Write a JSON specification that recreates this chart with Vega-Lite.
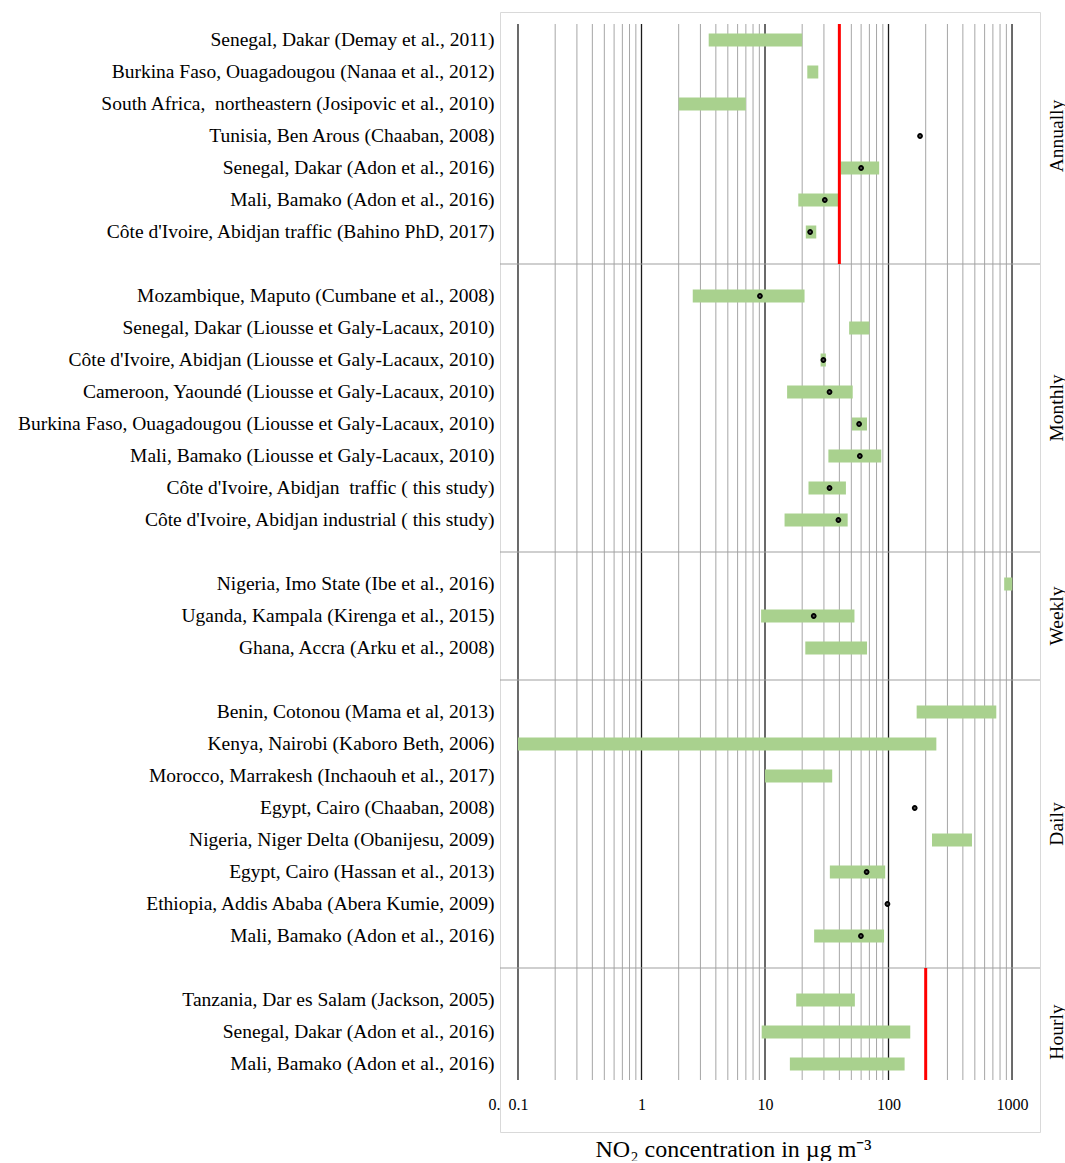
{
  "$schema": "https://vega.github.io/schema/vega-lite/v6.json",
  "width": 540,
  "height": 1120,
  "padding": {"left": 17, "top": 12, "right": 0, "bottom": 0},
  "config": {
    "font": "Liberation Serif",
    "view": {"stroke": "#d9d9d9", "strokeWidth": 1}
  },
  "datasets": {
    "rows": [
      {"label": "Senegal, Dakar (Demay et al., 2011)", "lo": 3.5, "hi": 20},
      {"label": "Burkina Faso, Ouagadougou (Nanaa et al., 2012)", "lo": 22, "hi": 27},
      {"label": "South Africa,\u00a0 northeastern (Josipovic et al., 2010)", "lo": 2.0, "hi": 7.0},
      {"label": "Tunisia, Ben Arous (Chaaban, 2008)", "mean": 180},
      {"label": "Senegal, Dakar (Adon et al., 2016)", "lo": 41, "hi": 84, "mean": 60},
      {"label": "Mali, Bamako (Adon et al., 2016)", "lo": 18.6, "hi": 40, "mean": 30.5},
      {"label": "Côte d'Ivoire, Abidjan traffic (Bahino PhD, 2017)", "lo": 21.4, "hi": 26, "mean": 23.2},
      {"label": "Mozambique, Maputo (Cumbane et al., 2008)", "lo": 2.6, "hi": 20.9, "mean": 9.1},
      {"label": "Senegal, Dakar (Liousse et Galy-Lacaux, 2010)", "lo": 48, "hi": 70},
      {"label": "Côte d'Ivoire, Abidjan (Liousse et Galy-Lacaux, 2010)", "lo": 28.2, "hi": 31.1, "mean": 29.7},
      {"label": "Cameroon, Yaoundé (Liousse et Galy-Lacaux, 2010)", "lo": 15.1, "hi": 51.3, "mean": 33.3},
      {"label": "Burkina Faso, Ouagadougou (Liousse et Galy-Lacaux, 2010)", "lo": 50.6, "hi": 67, "mean": 57.8},
      {"label": "Mali, Bamako (Liousse et Galy-Lacaux, 2010)", "lo": 32.6, "hi": 87.4, "mean": 58.6},
      {"label": "Côte d'Ivoire, Abidjan\u00a0 traffic ( this study)", "lo": 22.5, "hi": 45.2, "mean": 33.3},
      {"label": "Côte d'Ivoire, Abidjan industrial ( this study)", "lo": 14.4, "hi": 46.7, "mean": 39.3},
      {"label": "Nigeria, Imo State (Ibe et al., 2016)", "lo": 864, "hi": 1005},
      {"label": "Uganda, Kampala (Kirenga et al., 2015)", "lo": 9.3, "hi": 53, "mean": 24.8},
      {"label": "Ghana, Accra (Arku et al., 2008)", "lo": 21.2, "hi": 67},
      {"label": "Benin, Cotonou (Mama et al, 2013)", "lo": 169, "hi": 746},
      {"label": "Kenya, Nairobi (Kaboro Beth, 2006)", "lo": 0.1, "hi": 244},
      {"label": "Morocco, Marrakesh (Inchaouh et al., 2017)", "lo": 10, "hi": 35},
      {"label": "Egypt, Cairo (Chaaban, 2008)", "mean": 163},
      {"label": "Nigeria, Niger Delta (Obanijesu, 2009)", "lo": 225, "hi": 474},
      {"label": "Egypt, Cairo (Hassan et al., 2013)", "lo": 33.5, "hi": 94, "mean": 66.5},
      {"label": "Ethiopia, Addis Ababa (Abera Kumie, 2009)", "mean": 98},
      {"label": "Mali, Bamako (Adon et al., 2016)\u200b", "lo": 25, "hi": 92, "mean": 59.8},
      {"label": "Tanzania, Dar es Salam (Jackson, 2005)", "lo": 17.9, "hi": 53.4},
      {"label": "Senegal, Dakar (Adon et al., 2016)\u200b", "lo": 9.4, "hi": 150},
      {"label": "Mali, Bamako (Adon et al., 2016)\u200b\u200b", "lo": 15.9, "hi": 135}
    ],
    "minorGrid": [
      {"v": 0.2}, {"v": 0.3}, {"v": 0.4}, {"v": 0.5}, {"v": 0.6}, {"v": 0.7}, {"v": 0.8}, {"v": 0.9},
      {"v": 2}, {"v": 3}, {"v": 4}, {"v": 5}, {"v": 6}, {"v": 7}, {"v": 8}, {"v": 9},
      {"v": 20}, {"v": 30}, {"v": 40}, {"v": 50}, {"v": 60}, {"v": 70}, {"v": 80}, {"v": 90},
      {"v": 200}, {"v": 300}, {"v": 400}, {"v": 500}, {"v": 600}, {"v": 700}, {"v": 800}, {"v": 900}
    ],
    "majorGrid": [{"v": 0.1}, {"v": 1}, {"v": 10}, {"v": 100}, {"v": 1000}],
    "seps": [{"id": " "}, {"id": "  "}, {"id": "   "}, {"id": "    "}],
    "annualLimit": [{"limit": 40, "from": "Senegal, Dakar (Demay et al., 2011)", "to": " "}],
    "hourlyLimit": [{"limit": 200, "from": "    ", "to": "Mali, Bamako (Adon et al., 2016)\u200b\u200b"}]
  },
  "layer": [
    {
      "data": {"name": "minorGrid"},
      "mark": {"type": "rule", "color": "#a6a6a6", "strokeWidth": 1},
      "encoding": {
        "x": {"field": "v", "type": "quantitative"},
        "y": {"datum": "Senegal, Dakar (Demay et al., 2011)", "type": "nominal", "bandPosition": 0, "axis": null},
        "y2": {"datum": "Mali, Bamako (Adon et al., 2016)\u200b\u200b", "bandPosition": 1}
      }
    },
    {
      "data": {"name": "majorGrid"},
      "mark": {"type": "rule", "color": "#1a1a1a", "strokeWidth": 1.3},
      "encoding": {
        "x": {"field": "v", "type": "quantitative"},
        "y": {"datum": "Senegal, Dakar (Demay et al., 2011)", "type": "nominal", "bandPosition": 0, "axis": null},
        "y2": {"datum": "Mali, Bamako (Adon et al., 2016)\u200b\u200b", "bandPosition": 1}
      }
    },
    {
      "data": {"name": "seps"},
      "mark": {"type": "rule", "color": "#a0a0a0", "strokeWidth": 1.2},
      "encoding": {
        "y": {
          "field": "id", "type": "nominal", "bandPosition": 0.5,
          "axis": {
            "orient": "right", "title": null, "ticks": false, "domain": false, "grid": false,
            "labelAngle": -90, "labelFontSize": 19.5, "labelColor": "#000", "labelPadding": 7, "labelLimit": 300,
            "labelExpr": "datum.value == 'Tunisia, Ben Arous (Chaaban, 2008)' ? 'Annually' : datum.value == 'Cameroon, Yaoundé (Liousse et Galy-Lacaux, 2010)' ? 'Monthly' : datum.value == 'Uganda, Kampala (Kirenga et al., 2015)' ? 'Weekly' : datum.value == 'Egypt, Cairo (Chaaban, 2008)' ? 'Daily' : datum.value == 'Senegal, Dakar (Adon et al., 2016)\u200b' ? 'Hourly' : ''",
            "labelOffset": {"condition": {"test": "datum.value == 'Cameroon, Yaoundé (Liousse et Galy-Lacaux, 2010)' || datum.value == 'Egypt, Cairo (Chaaban, 2008)'", "value": 16}, "value": 0}
          }
        }
      }
    },
    {
      "data": {"name": "rows"},
      "transform": [{"filter": "isValid(datum.lo)"}],
      "mark": {"type": "bar", "color": "#a9d18e", "size": 13},
      "encoding": {
        "x": {
          "field": "lo", "type": "quantitative",
          "scale": {"type": "log", "domain": [0.0715, 1685], "nice": false},
          "axis": {
            "title": "NO₂ concentration in µg m⁻³",
            "values": [0.0715, 0.1, 1, 10, 100, 1000],
            "labelExpr": "datum.value < 0.09 ? '0.' : datum.value < 0.5 ? '0.1' : format(datum.value, 'd')",
            "labelAlign": {"condition": {"test": "datum.value < 0.09", "value": "right"}, "value": "center"},
            "labelFlush": false, "labelOverlap": false, "grid": false, "ticks": false, "domain": false,
            "offset": -38, "labelPadding": 2, "labelFontSize": 16, "labelColor": "#000",
            "titleFontSize": 24, "titleFontWeight": "normal", "titleColor": "#000",
            "titleX": 233, "titleY": 55, "titleBaseline": "middle", "titleAlign": "center"
          }
        },
        "x2": {"field": "hi"},
        "y": {
          "field": "label", "type": "nominal",
          "scale": {
            "type": "band",
            "domain": [
              "Senegal, Dakar (Demay et al., 2011)",
              "Burkina Faso, Ouagadougou (Nanaa et al., 2012)",
              "South Africa,\u00a0 northeastern (Josipovic et al., 2010)",
              "Tunisia, Ben Arous (Chaaban, 2008)",
              "Senegal, Dakar (Adon et al., 2016)",
              "Mali, Bamako (Adon et al., 2016)",
              "Côte d'Ivoire, Abidjan traffic (Bahino PhD, 2017)",
              " ",
              "Mozambique, Maputo (Cumbane et al., 2008)",
              "Senegal, Dakar (Liousse et Galy-Lacaux, 2010)",
              "Côte d'Ivoire, Abidjan (Liousse et Galy-Lacaux, 2010)",
              "Cameroon, Yaoundé (Liousse et Galy-Lacaux, 2010)",
              "Burkina Faso, Ouagadougou (Liousse et Galy-Lacaux, 2010)",
              "Mali, Bamako (Liousse et Galy-Lacaux, 2010)",
              "Côte d'Ivoire, Abidjan\u00a0 traffic ( this study)",
              "Côte d'Ivoire, Abidjan industrial ( this study)",
              "  ",
              "Nigeria, Imo State (Ibe et al., 2016)",
              "Uganda, Kampala (Kirenga et al., 2015)",
              "Ghana, Accra (Arku et al., 2008)",
              "   ",
              "Benin, Cotonou (Mama et al, 2013)",
              "Kenya, Nairobi (Kaboro Beth, 2006)",
              "Morocco, Marrakesh (Inchaouh et al., 2017)",
              "Egypt, Cairo (Chaaban, 2008)",
              "Nigeria, Niger Delta (Obanijesu, 2009)",
              "Egypt, Cairo (Hassan et al., 2013)",
              "Ethiopia, Addis Ababa (Abera Kumie, 2009)",
              "Mali, Bamako (Adon et al., 2016)\u200b",
              "    ",
              "Tanzania, Dar es Salam (Jackson, 2005)",
              "Senegal, Dakar (Adon et al., 2016)\u200b",
              "Mali, Bamako (Adon et al., 2016)\u200b\u200b"
            ],
            "paddingInner": 0,
            "paddingOuter": 1.0885,
            "align": 0.1876
          },
          "axis": {
            "orient": "left", "title": null, "ticks": false, "domain": false, "grid": false,
            "labelFontSize": 19.5, "labelColor": "#000", "labelPadding": 6, "labelLimit": 700
          }
        }
      }
    },
    {
      "data": {"name": "rows"},
      "transform": [{"filter": "isValid(datum.mean)"}],
      "mark": {"type": "point", "filled": true, "fill": "#555555", "stroke": "#000", "strokeWidth": 1.8, "size": 16, "opacity": 1},
      "encoding": {
        "x": {"field": "mean", "type": "quantitative"},
        "y": {"field": "label", "type": "nominal", "axis": null}
      }
    },
    {
      "data": {"name": "annualLimit"},
      "mark": {"type": "rule", "color": "#ff0000", "strokeWidth": 3},
      "encoding": {
        "x": {"field": "limit", "type": "quantitative"},
        "y": {"field": "from", "type": "nominal", "bandPosition": 0, "axis": null},
        "y2": {"field": "to", "bandPosition": 0.5}
      }
    },
    {
      "data": {"name": "hourlyLimit"},
      "mark": {"type": "rule", "color": "#ff0000", "strokeWidth": 3},
      "encoding": {
        "x": {"field": "limit", "type": "quantitative"},
        "y": {"field": "from", "type": "nominal", "bandPosition": 0.5, "axis": null},
        "y2": {"field": "to", "bandPosition": 1}
      }
    }
  ],
  "resolve": {"axis": {"y": "independent"}}
}
